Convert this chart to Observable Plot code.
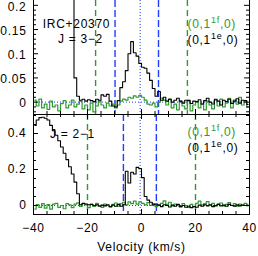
<!DOCTYPE html>
<html><head><meta charset="utf-8">
<script src="https://cdn.jsdelivr.net/npm/d3@7"></script>
<script src="https://cdn.jsdelivr.net/npm/@observablehq/plot@0.6"></script>
<style>
body{margin:0;background:#fff;}
#chart svg{display:block;}
</style></head><body><div id="chart"></div>
<script>
// channel grid (km/s): centre of first channel and channel width
const chanStart = -39.5, chanWidth = 1;

// J = 3-2 panel
const j32Black = [0.56,0.59,0.60,0.61,0.60,0.58,0.55,0.51,0.47,0.43,0.39,0.35,0.31,0.27,0.23,0.05,0.012,0.004,0.006,0.002,
  0.005,0.003,0.001,0.006,0.004,0.015,0.012,0.016,0.002,-0.008,-0.01,0.003,0.03,0.042,0.065,0.10,0.125,0.102,0.095,0.08,
  0.072,0.07,0.06,0.045,0.028,0.012,0.022,0.004,0.01,0.002,0.006,0.0,0.004,0.008,0.002,-0.002,0.004,0.003,-0.003,0.002,
  0.001,0.005,-0.004,0.003,0.008,0.0,-0.004,0.006,0.002,-0.006,0.004,0.001,0.006,-0.003,0.002,0.007,-0.002,0.004,0.003,-0.005];
const j32Green = [0.004,-0.008,0.006,-0.012,-0.004,-0.015,0.002,-0.01,-0.006,-0.018,-0.003,0.003,-0.012,-0.006,0.004,-0.01,-0.004,0.002,-0.014,-0.006,
  -0.016,-0.002,-0.02,-0.008,0.002,-0.006,-0.012,-0.002,-0.008,-0.004,-0.012,-0.006,0.002,0.006,0.004,0.01,0.008,0.013,0.01,0.014,
  0.01,0.004,-0.004,-0.006,-0.002,-0.01,0.0,0.008,0.004,-0.006,0.006,-0.012,-0.004,-0.016,0.002,-0.008,-0.014,0.004,-0.018,-0.006,
  0.0,-0.012,-0.004,-0.016,0.002,-0.006,-0.014,0.004,-0.008,0.006,-0.01,-0.002,0.008,-0.012,0.004,-0.004,0.01,-0.006,0.002,-0.01];

// J = 2-1 panel
const j21Black = [0.445,0.475,0.488,0.49,0.485,0.475,0.445,0.415,0.39,0.36,0.325,0.29,0.255,0.215,0.175,0.13,0.065,0.004,0.012,0.008,
  0.004,0.006,0.0,0.004,-0.004,0.002,-0.002,0.004,-0.006,0.002,-0.004,0.006,-0.004,0.004,0.19,0.125,0.185,0.175,0.212,0.205,
  0.155,0.05,0.03,0.018,0.004,0.008,0.002,-0.006,0.004,0.0,-0.008,0.002,-0.004,0.006,-0.006,0.0,-0.01,-0.004,-0.012,-0.006,
  -0.01,0.002,-0.004,0.004,-0.002,0.004,-0.006,0.0,0.006,-0.002,0.002,-0.004,0.006,0.0,-0.004,0.004,-0.002,0.002,0.0,0.002];
const j21Green = [-0.02,0.005,-0.01,0.01,-0.015,0.005,-0.02,0.008,0.012,-0.01,0.0,-0.018,0.01,0.004,-0.012,0.008,0.015,-0.005,0.01,0.003,
  -0.012,0.006,-0.005,0.012,0.0,-0.01,0.008,0.0,-0.008,0.006,0.014,-0.004,0.01,0.018,0.004,0.02,0.01,0.024,0.008,0.02,
  0.012,0.004,0.016,0.0,0.01,-0.006,0.004,0.012,0.026,0.006,0.018,-0.002,0.008,0.004,-0.008,0.01,0.0,-0.01,0.006,-0.006,
  0.012,0.024,0.004,0.01,0.022,0.002,0.012,-0.004,0.008,0.014,-0.002,0.006,0.016,0.0,0.01,-0.004,0.008,0.002,0.012,-0.002];

// reference lines (km/s)
const systemicVel = [-0.5];
const j32GreenMarks = [-17, 17];
const j32BlueMarks = [-9.8, 6.3];
const j21GreenMarks = [-20, 20];
const j21BlueMarks = [-6.7, 5.5];

// ticks
const xDomain = [-40, 40];
const xMajor = [-40, -20, 0, 20, 40];
const xMinor = [-35, -30, -25, -15, -10, -5, 5, 10, 15, 25, 30, 35];
const j32YMajor = [0, 0.05, 0.1, 0.15, 0.2];
const j32YMinor = [-0.02, -0.01, 0.01, 0.02, 0.03, 0.04, 0.06, 0.07, 0.08, 0.09, 0.11, 0.12, 0.13, 0.14, 0.16, 0.17, 0.18, 0.19];
const j21YMajor = [0, 0.2, 0.4];
const j21YMinor = [-0.05, 0.05, 0.1, 0.15, 0.25, 0.3, 0.35, 0.45, 0.5];

const GREEN = "#2f9a2f", BLUE = "#1f3dff";
const W = 258, ML = 33, MR = 9;
const fmt = d => d < 0 ? "\u2212" + Math.abs(d) : String(d);
const rows = vals => vals.map((y, i) => ({v: chanStart + i * chanWidth, y}));

function panel(o) {
  const innerH = o.height - o.marginBottom;
  const innerW = W - ML - MR;
  const marks = [
    Plot.ruleY([0], {stroke: BLUE, strokeDasharray: "1,2"}),
    Plot.ruleX(systemicVel, {stroke: BLUE, strokeDasharray: "1,2"}),
    Plot.ruleX(o.greenMarks, {stroke: GREEN, strokeDasharray: "6,4", strokeWidth: 1.4}),
    Plot.ruleX(o.blueMarks, {stroke: BLUE, strokeDasharray: "7,3", strokeWidth: 1.4}),
    Plot.line(rows(o.green), {x: "v", y: "y", curve: "step", stroke: GREEN, strokeWidth: 1.2, clip: true}),
    Plot.line(rows(o.black), {x: "v", y: "y", curve: "step", stroke: "black", strokeWidth: 1.1, clip: true}),
    Plot.frame({anchor: "left"}), Plot.frame({anchor: "right"}), Plot.frame({anchor: "bottom"}),
    // inward ticks
    Plot.tickX(xMajor, {x: d => d, insetTop: innerH - 5}),
    Plot.tickX(xMinor, {x: d => d, insetTop: innerH - 3}),
    Plot.tickY(o.yMajor, {y: d => d, insetRight: innerW - 5}),
    Plot.tickY(o.yMinor, {y: d => d, insetRight: innerW - 3}),
    Plot.tickY(o.yMajor, {y: d => d, insetLeft: innerW - 5}),
    Plot.tickY(o.yMinor, {y: d => d, insetLeft: innerW - 3}),
    Plot.axisY({ticks: o.yMajor, tickSize: 0, tickPadding: 7, tickFormat: fmt, label: null, dy: o.yLabelDy || 0}),
  ];
  if (o.topEdge) {
    marks.push(Plot.frame({anchor: "top"}),
      Plot.tickX(xMajor, {x: d => d, insetBottom: innerH - 5}),
      Plot.tickX(xMinor, {x: d => d, insetBottom: innerH - 3}));
  }
  for (const t of o.texts) {
    marks.push(Plot.text([t.s], {text: d => d, frameAnchor: "top-left", dx: t.dx, dy: t.dy,
      textAnchor: t.anchor || "middle", lineAnchor: "middle", fill: t.fill || "black", fontSize: 12}));
  }
  if (o.xAxis) {
    marks.push(Plot.axisX({ticks: xMajor, tickSize: 0, tickPadding: 9, tickFormat: fmt, label: null}));
    marks.push(Plot.text(["Velocity (km/s)"], {text: d => d, frameAnchor: "bottom", dy: 33, lineAnchor: "middle", fontSize: 12}));
  }
  const svg = Plot.plot({
    width: W, height: o.height,
    marginLeft: ML, marginRight: MR, marginTop: 0, marginBottom: o.marginBottom,
    style: {fontFamily: "'Liberation Sans', Arial, sans-serif", fontSize: "12px", letterSpacing: "0.7px", background: "white"},
    x: {domain: xDomain, axis: o.xAxis ? undefined : null},
    y: {domain: o.yDomain},
    marks
  });
  // superscripts written as "^xx"
  d3.select(svg).selectAll("text").each(function () {
    const s = this.textContent;
    const m = s.match(/^(.*)\^(\w+)(.*)$/);
    if (!m) return;
    const el = d3.select(this);
    el.text(null);
    el.append("tspan").text(m[1]);
    el.append("tspan").attr("dy", -5).attr("font-size", 9).text(m[2]);
    el.append("tspan").attr("dy", 5).text(m[3]);
  });
  return svg;
}

const chart = document.getElementById("chart");
chart.append(panel({
  black: j32Black, green: j32Green, yDomain: [-0.0256, 0.21],
  yMajor: j32YMajor, yMinor: j32YMinor, greenMarks: j32GreenMarks, blueMarks: j32BlueMarks,
  height: 114, marginBottom: 0, topEdge: false, xAxis: false, yLabelDy: 1.5,
  texts: [
    {s: "IRC+20370", dx: 43, dy: 24},
    {s: "J = 3\u22122", dx: 47, dy: 39},
    {s: "(0,1^1f,0)", dx: 154, dy: 24, anchor: "start", fill: GREEN},
    {s: "(0,1^1e,0)", dx: 154, dy: 40, anchor: "start"}
  ]
}));
chart.append(panel({
  black: j21Black, green: j21Green, yDomain: [-0.05, 0.5056],
  yMajor: j21YMajor, yMinor: j21YMinor, greenMarks: j21GreenMarks, blueMarks: j21BlueMarks,
  height: 142, marginBottom: 42, topEdge: true, xAxis: true,
  texts: [
    {s: "J = 2\u22121", dx: 39, dy: 20},
    {s: "(0,1^1f,0)", dx: 154, dy: 18, anchor: "start", fill: GREEN},
    {s: "(0,1^1e,0)", dx: 154, dy: 34, anchor: "start"}
  ]
}));
</script></body></html>
